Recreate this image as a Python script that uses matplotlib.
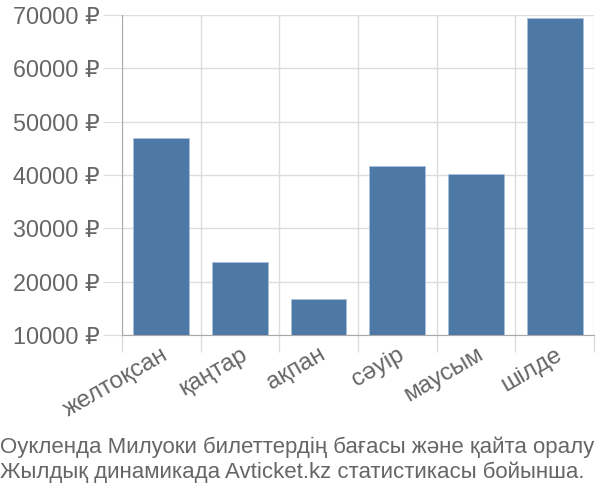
import numpy as np
import matplotlib.pyplot as plt

# ----------------------------
# Data
# ----------------------------

months = ["желтоқсан", "қаңтар", "ақпан", "сәуір", "маусым", "шілде"]
prices = [46900, 23600, 16750, 41700, 40150, 69400]
y_ticks = [10000, 20000, 30000, 40000, 50000, 60000, 70000]

caption = ("Оукленда Милуоки билеттердің бағасы және қайта оралу\n"
           "Жылдық динамикада Avticket.kz статистикасы бойынша.")

# ----------------------------
# Style
# ----------------------------

plt.rcParams["font.family"] = ["Liberation Sans", "DejaVu Sans"]

grey_text = "#666666"
grid_col = "#dddddd"
axis_col = "#aaaaaa"

# ----------------------------
# Plot
# ----------------------------

fig = plt.figure(figsize=(6, 5), dpi=100)
ax = fig.add_axes([0.203, 0.33, 0.787, 0.64])

x = np.arange(len(months))
ax.bar(x, prices, width=0.71, bottom=0, color="#4e79a7",
       edgecolor="#a9c0da", linewidth=0.6, zorder=3)

ax.set_xlim(-0.5, len(months) - 0.5)
ax.set_ylim(10000, 70000)

ax.set_yticks(y_ticks)
ax.set_yticklabels([f"{v} ₽" for v in y_ticks], fontsize=16.8, color=grey_text)
ax.tick_params(axis="y", length=14, color=grid_col, pad=2)
ax.grid(axis="y", color=grid_col, linewidth=1, zorder=0)

ax.set_xticks(x)
ax.set_xticklabels(months, rotation=30, ha="right", rotation_mode="anchor",
                   fontsize=17.5, color=grey_text)
ax.tick_params(axis="x", which="major", length=0, pad=6)
ax.set_xticks(np.arange(len(months) + 1) - 0.5, minor=True)
ax.tick_params(axis="x", which="minor", length=12, color=grid_col, width=1)
ax.grid(axis="x", which="minor", color=grid_col, linewidth=1, zorder=0)

for side in ["top", "right"]:
    ax.spines[side].set_visible(False)
ax.spines["left"].set_color(axis_col)
ax.spines["bottom"].set_color(axis_col)

fig.text(0.0, 0.08, caption, fontsize=16, color=grey_text,
         ha="left", va="center", linespacing=1.2)

plt.savefig("out.png", dpi=100)
